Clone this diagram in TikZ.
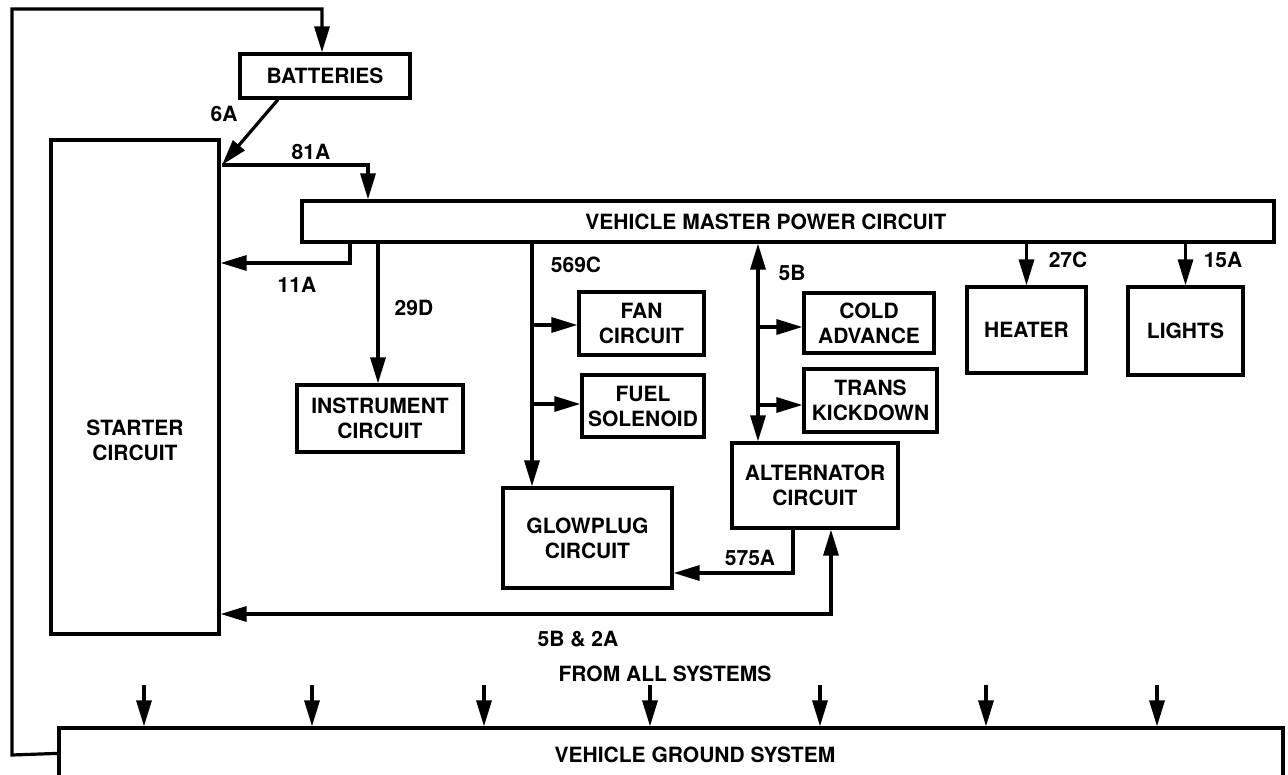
\documentclass[tikz,border=0pt]{standalone}
\usepackage{fontspec}
\setmainfont{TeX Gyre Heros}
\usetikzlibrary{arrows.meta}
\begin{document}
\begin{tikzpicture}[x=1pt,y=-1pt,
  every node/.style={font=\fontsize{21}{25}\selectfont\bfseries},
  box/.style={draw, line width=3.2pt, align=center, inner sep=0pt},
  lbl/.style={inner sep=0pt, align=center},
  wire/.style={line width=3.2pt},
  arr/.style={wire, -{Triangle[length=26pt,width=15pt]}},
  darr/.style={wire, {Triangle[length=26pt,width=15pt]}-{Triangle[length=26pt,width=15pt]}}]
\useasboundingbox (0,0) rectangle (1288,775);
% boxes
\node[box, minimum width=170pt, minimum height=44pt] (batt) at (325,76) {BATTERIES};
\node[box, minimum width=168pt, minimum height=494pt] (starter) at (135,387) {};
\node[lbl] (startertxt) at (135,440) {STARTER\\CIRCUIT};
\node[box, minimum width=972pt, minimum height=41pt] (master) at (788,221.5) {};
\node[lbl] (mastertxt) at (766,221.5) {VEHICLE MASTER POWER CIRCUIT};
\node[box, minimum width=166pt, minimum height=67pt] (instr) at (380,418.5) {INSTRUMENT\\CIRCUIT};
\node[box, minimum width=125pt, minimum height=63pt] (fan) at (641.5,323.5) {FAN\\CIRCUIT};
\node[box, minimum width=122pt, minimum height=62pt] (fuel) at (643,406) {FUEL\\SOLENOID};
\node[box, minimum width=169pt, minimum height=100pt] (glow) at (587.5,538) {GLOWPLUG\\CIRCUIT};
\node[box, minimum width=166pt, minimum height=85pt] (alt) at (815,485.5) {ALTERNATOR\\CIRCUIT};
\node[box, minimum width=130pt, minimum height=60pt] (cold) at (869,323) {COLD\\ADVANCE};
\node[box, minimum width=133pt, minimum height=63pt] (trans) at (870.5,400.5) {TRANS\\KICKDOWN};
\node[box, minimum width=119pt, minimum height=86pt] (heater) at (1026.5,330) {HEATER};
\node[box, minimum width=115pt, minimum height=88pt] (lights) at (1185.5,331) {LIGHTS};
\node[box, minimum width=1224pt, minimum height=72pt] (ground) at (671,764) {};
\node[lbl] (groundtxt) at (695,755) {VEHICLE GROUND SYSTEM};
\node[lbl] (fromall) at (665,674) {FROM ALL SYSTEMS};
% labels
\node[lbl] (l6a) at (224,114) {6A};
\node[lbl] (l81a) at (311,152) {81A};
\node[lbl] (l11a) at (297,285) {11A};
\node[lbl] (l29d) at (414,308) {29D};
\node[lbl] (l569c) at (576,265) {569C};
\node[lbl] (l5b) at (792,273) {5B};
\node[lbl] (l27c) at (1068,260) {27C};
\node[lbl] (l15a) at (1223,260) {15A};
\node[lbl] (l575a) at (750,558) {575A};
\node[lbl] (l5b2a) at (578,639) {5B \& 2A};
% junction coordinates
\coordinate (j) at (222,165);
\coordinate (gj) at ([yshift=-27pt]ground.north west);
% connectors
\draw[arr] (gj) -- (12,755) -- (12,9) -- (322,9) -- (batt.north -| 322,0);
\draw[arr] (batt.south -| 278,0) -- (j);
\draw[arr] (j) -- (368,165) -- (master.north -| 368,0);
\draw[arr] (master.south -| 350,0) |- (starter.east |- 0,263);
\draw[arr] (master.south -| 378,0) -- (instr.north -| 378,0);
\draw[arr] (master.south -| 532,0) -- (glow.north -| 532,0);
\draw[arr] (532,325) -- (fan.west |- 0,325);
\draw[arr] (532,404) -- (fuel.west |- 0,404);
\draw[darr] (master.south -| 758,0) -- (alt.north -| 758,0);
\draw[arr] (758,327) -- (cold.west |- 0,327);
\draw[arr] (758,405) -- (trans.west |- 0,405);
\draw[arr] (master.south -| heater.north) -- (heater.north);
\draw[arr] (master.south -| lights.north) -- (lights.north);
\draw[arr] (alt.south -| 793,0) |- (glow.east |- 0,573);
\draw[darr] (starter.east |- 0,614) -| (alt.south -| 831,0);
\foreach \gx in {144,312,484,650,820,986,1157}
  \draw[arr] (\gx,685) -- (ground.north -| \gx,0);
\end{tikzpicture}
\end{document}
